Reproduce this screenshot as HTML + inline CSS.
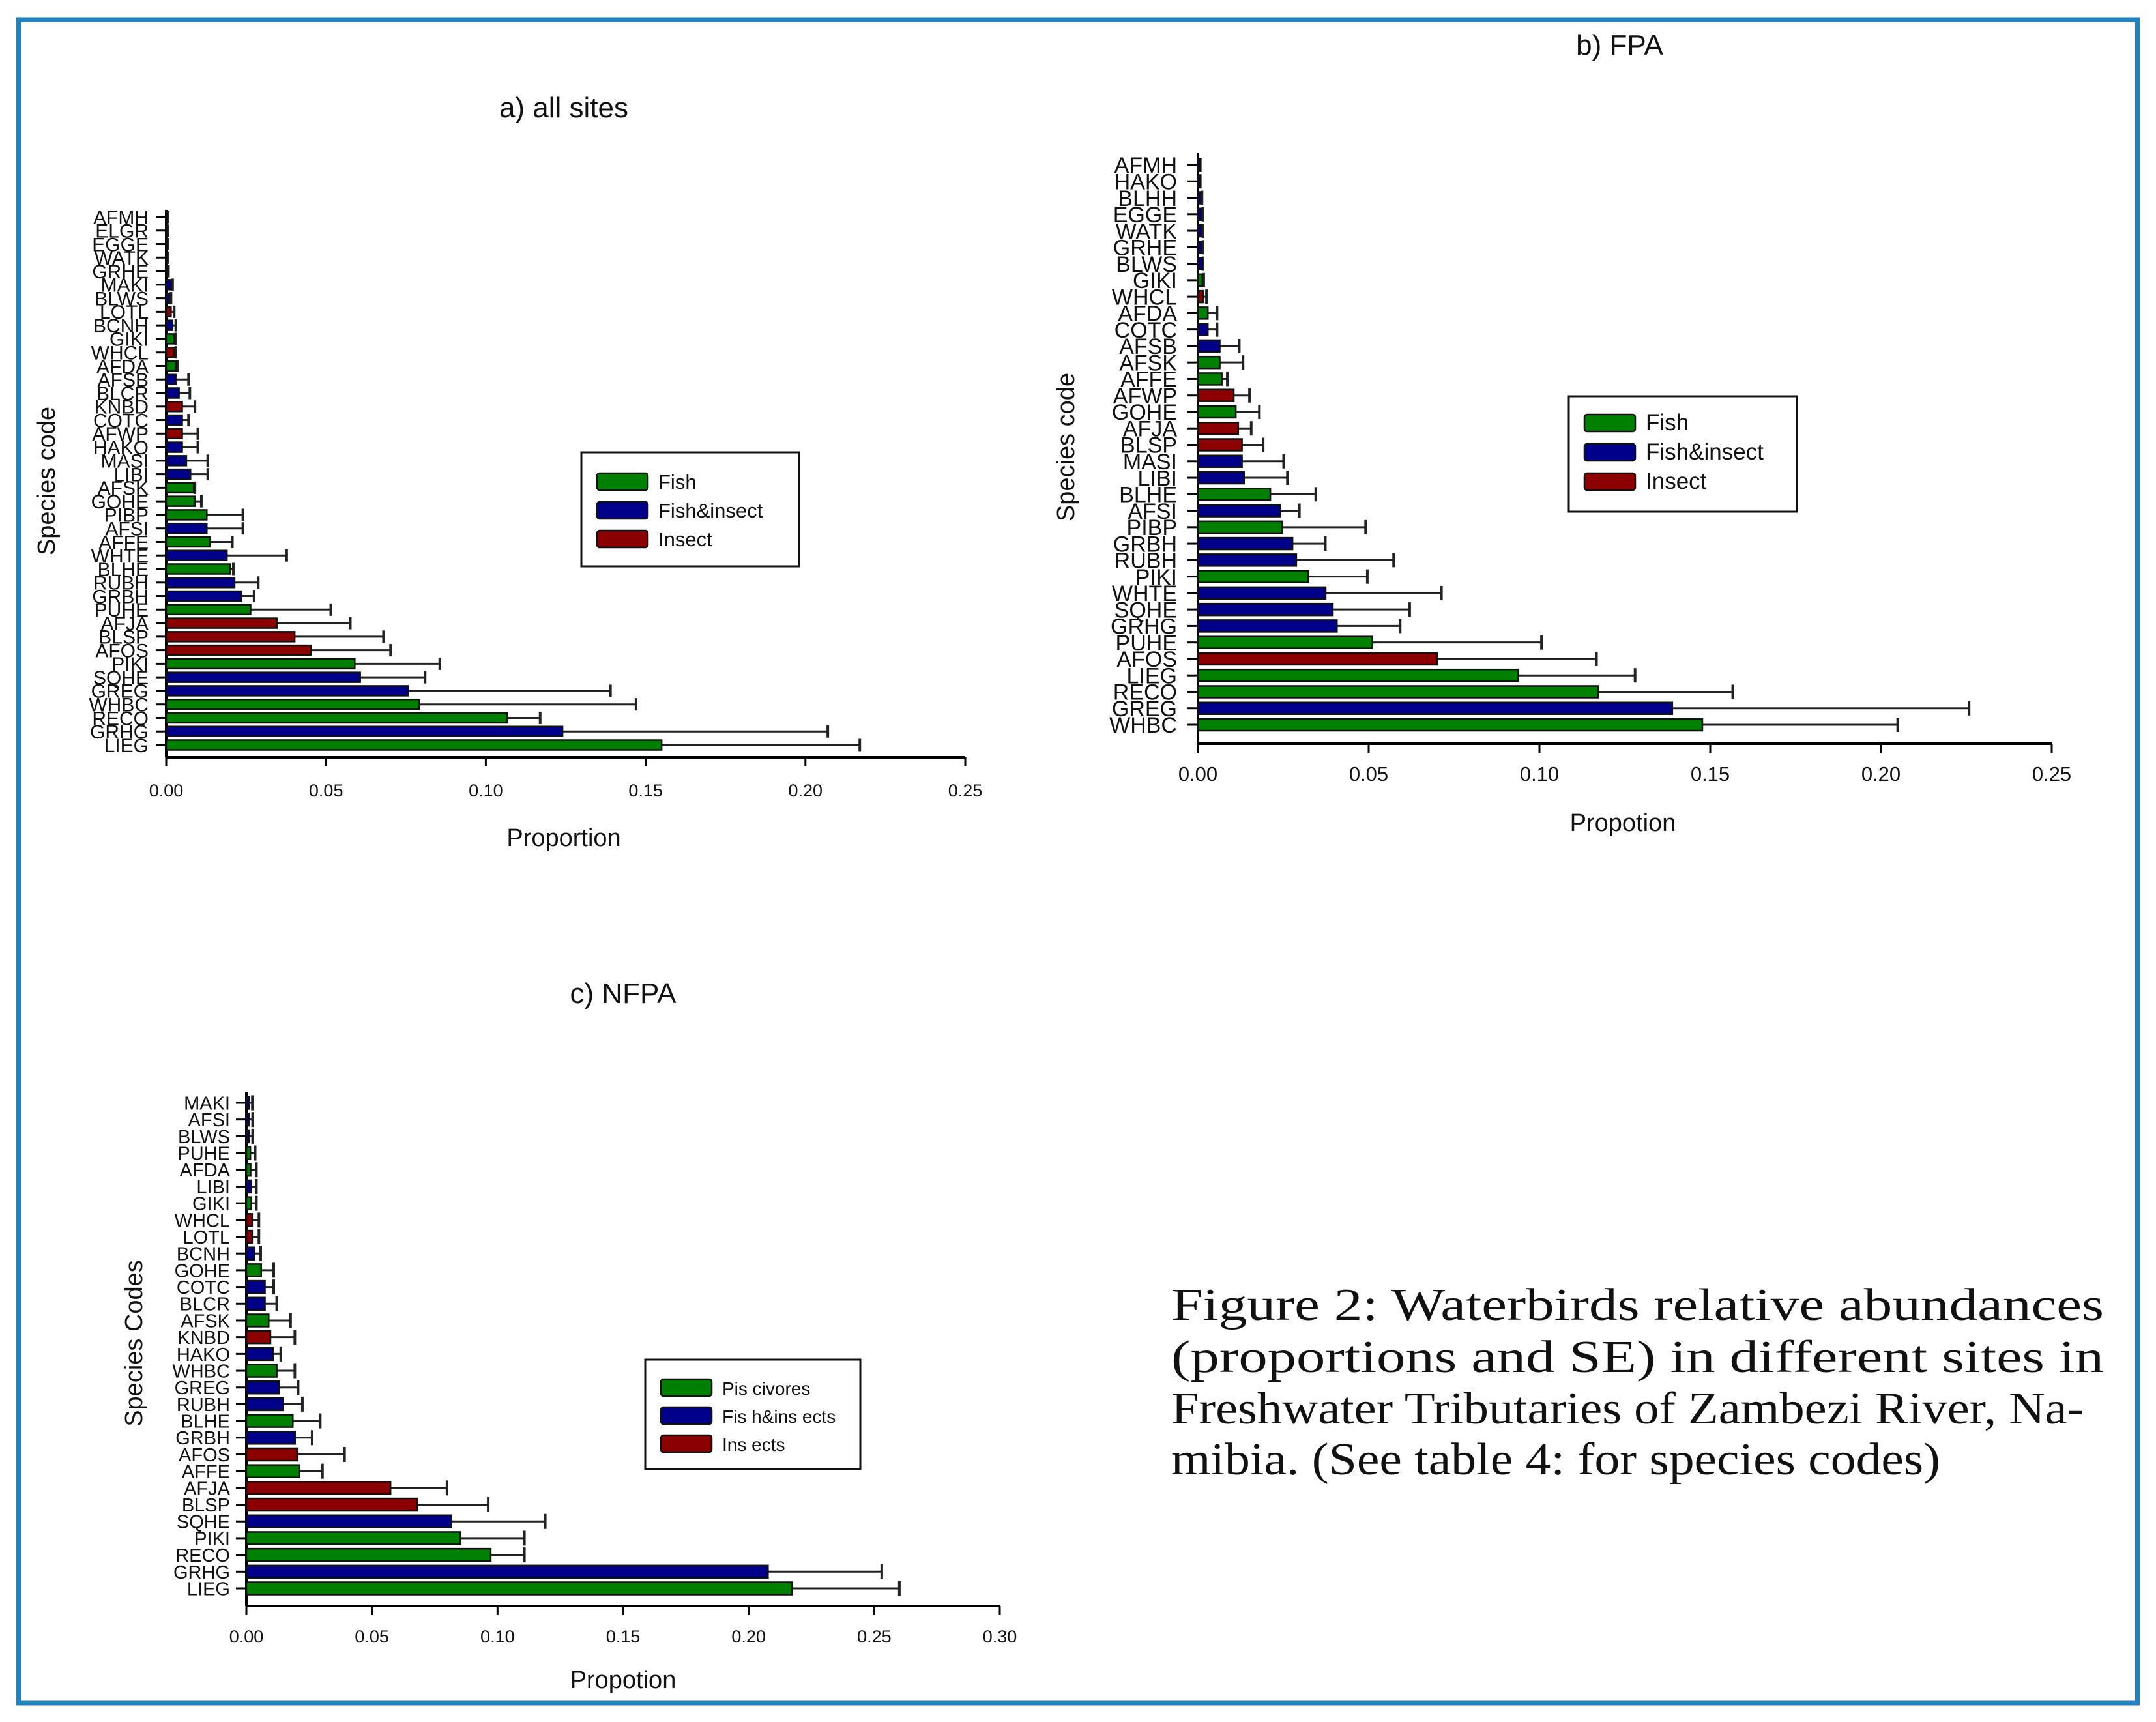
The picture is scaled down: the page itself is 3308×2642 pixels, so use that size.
<!DOCTYPE html>
<html><head><meta charset="utf-8">
<style>
html,body{margin:0;padding:0;background:#fff;}
svg{display:block;}
text{font-family:"Liberation Sans",sans-serif;fill:#111;}
</style></head>
<body>
<svg id="fig" xmlns="http://www.w3.org/2000/svg" width="3308" height="2642" viewBox="0 0 3308 2642">
<rect x="28.5" y="30" width="3251" height="2583" fill="none" stroke="#2382c0" stroke-width="7"/>
<g id="pa"></g>
<g id="pb"></g>
<g id="pc"></g>
<g style="font-family:'Liberation Serif',serif">
<text x="1797" y="2025" font-size="70" textLength="1431" lengthAdjust="spacingAndGlyphs" style="font-family:'Liberation Serif',serif">Figure 2: Waterbirds  relative abundances</text>
<text x="1797" y="2105" font-size="70" textLength="1431" lengthAdjust="spacingAndGlyphs" style="font-family:'Liberation Serif',serif">(proportions and  SE) in different sites in</text>
<text x="1797" y="2184" font-size="70" textLength="1400" lengthAdjust="spacingAndGlyphs" style="font-family:'Liberation Serif',serif">Freshwater Tributaries of Zambezi River, Na-</text>
<text x="1797" y="2262" font-size="70" textLength="1180" lengthAdjust="spacingAndGlyphs" style="font-family:'Liberation Serif',serif">mibia.  (See table 4: for species codes)</text>
</g>
</svg>
<script>
// groups: 0 = fish/piscivores, 1 = fish&insect, 2 = insect
const catsA = ["AFMH","ELGR","EGGE","WATK","GRHE","MAKI","BLWS","LOTL","BCNH","GIKI","WHCL","AFDA","AFSB","BLCR","KNBD","COTC","AFWP","HAKO","MASI","LIBI","AFSK","GOHE","PIBP","AFSI","AFFE","WHTE","BLHE","RUBH","GRBH","PUHE","AFJA","BLSP","AFOS","PIKI","SQHE","GREG","WHBC","RECO","GRHG","LIEG"];
const valsA = [0,0.0003,0.0003,0.0003,0.0005,0.0015,0.001,0.0015,0.002,0.0025,0.0025,0.003,0.003,0.004,0.005,0.005,0.005,0.005,0.0063,0.0076,0.0086,0.009,0.0127,0.0127,0.0137,0.019,0.02,0.0214,0.0235,0.0264,0.0346,0.0402,0.0453,0.059,0.0607,0.0757,0.0792,0.1067,0.124,0.155];
const errsA = [0.0005,0.0005,0.0005,0.0005,0.0007,0.002,0.0015,0.0025,0.003,0.003,0.003,0.0035,0.007,0.0074,0.009,0.007,0.0099,0.0099,0.013,0.013,0.009,0.011,0.024,0.024,0.0207,0.0377,0.021,0.0288,0.0275,0.0515,0.0576,0.068,0.0702,0.0856,0.081,0.139,0.147,0.117,0.207,0.217];
const groupsA = [1,1,1,1,1,1,1,2,1,0,2,0,1,1,2,1,2,1,1,1,0,0,0,1,0,1,0,1,1,0,2,2,2,0,1,1,0,0,1,0];
const ticksA = ["0.00","0.05","0.10","0.15","0.20","0.25"];

const catsB = ["AFMH","HAKO","BLHH","EGGE","WATK","GRHE","BLWS","GIKI","WHCL","AFDA","COTC","AFSB","AFSK","AFFE","AFWP","GOHE","AFJA","BLSP","MASI","LIBI","BLHE","AFSI","PIBP","GRBH","RUBH","PIKI","WHTE","SQHE","GRHG","PUHE","AFOS","LIEG","RECO","GREG","WHBC"];
const valsB = [0.0005,0.0005,0.0008,0.001,0.001,0.001,0.0013,0.0013,0.0015,0.0029,0.0029,0.0064,0.0064,0.007,0.0105,0.0111,0.0118,0.0129,0.0129,0.0135,0.0212,0.024,0.0246,0.0277,0.0288,0.0323,0.0374,0.0395,0.0407,0.0511,0.07,0.0938,0.1172,0.1389,0.1477];
const errsB = [0.0007,0.0007,0.0012,0.0015,0.0015,0.0015,0.0015,0.0017,0.0025,0.0056,0.0056,0.0121,0.0132,0.0086,0.0151,0.018,0.0156,0.0191,0.0251,0.0262,0.0345,0.0297,0.0491,0.0373,0.0573,0.0496,0.0713,0.062,0.0592,0.1006,0.1167,0.128,0.1566,0.2258,0.2049];
const groupsB = [1,1,1,1,1,1,1,0,2,0,1,1,0,0,2,0,2,2,1,1,0,1,0,1,1,0,1,1,1,0,2,0,0,1,0];
const ticksB = ["0.00","0.05","0.10","0.15","0.20","0.25"];

const catsC = ["MAKI","AFSI","BLWS","PUHE","AFDA","LIBI","GIKI","WHCL","LOTL","BCNH","GOHE","COTC","BLCR","AFSK","KNBD","HAKO","WHBC","GREG","RUBH","BLHE","GRBH","AFOS","AFFE","AFJA","BLSP","SQHE","PIKI","RECO","GRHG","LIEG"];
const valsC = [0.001,0.001,0.001,0.0016,0.0017,0.002,0.002,0.0023,0.0023,0.0033,0.0059,0.0074,0.0074,0.0089,0.0096,0.0106,0.0121,0.013,0.0147,0.0185,0.0194,0.0202,0.021,0.0574,0.068,0.0816,0.0852,0.0973,0.2077,0.2173];
const errsC = [0.0024,0.0025,0.0025,0.0035,0.004,0.004,0.004,0.005,0.005,0.0057,0.0109,0.0109,0.0121,0.0176,0.0193,0.0137,0.0193,0.0206,0.0223,0.0294,0.0262,0.0391,0.0303,0.0799,0.0963,0.119,0.1107,0.1107,0.253,0.26];
const groupsC = [1,1,1,0,0,1,0,2,2,1,0,1,1,0,2,1,0,1,1,0,1,2,0,2,2,1,0,0,1,0];
const ticksC = ["0.00","0.05","0.10","0.15","0.20","0.25","0.30"];

const colors = ["#008000","#00008b","#8b0000"];
const NS = "http://www.w3.org/2000/svg";
function mk(parent, tag, attrs, txt){
  const e = document.createElementNS(NS, tag);
  for (const k in attrs) e.setAttribute(k, attrs[k]);
  if (txt !== undefined) e.textContent = txt;
  parent.appendChild(e);
  return e;
}
function panel(g, cfg, cats, vals, errs, groups, ticks){
  const xs = v => cfg.x0 + (v / cfg.max) * (cfg.x1 - cfg.x0);
  const n = cats.length;
  const ys = i => cfg.yTop + i * (cfg.yBot - cfg.yTop) / (n - 1);
  // axes
  const ya = mk(g,"line",{x1:cfg.x0,y1:cfg.axTop,x2:cfg.x0,y2:cfg.axBot,stroke:"#000","stroke-width":4});
  
  
  const xa = mk(g,"line",{x1:cfg.x0,y1:cfg.axBot,x2:cfg.x1,y2:cfg.axBot,stroke:"#000","stroke-width":4});
  
  
  for (let t=0;t<ticks.length;t++){
    const v = parseFloat(ticks[t]); const x = xs(v);
    const tk = mk(g,"line",{x1:x,y1:cfg.axBot,x2:x,y2:cfg.axBot+14,stroke:"#000","stroke-width":3});
    
    
    const tl = mk(g,"text",{x:x,y:cfg.tickY,"font-size":cfg.tickFs,"text-anchor":"middle"},ticks[t]);
    
    
  }
  for (let i=0;i<n;i++){
    const y = ys(i);
    const tk = mk(g,"line",{x1:cfg.x0-16,y1:y,x2:cfg.x0,y2:y,stroke:"#000","stroke-width":3});
    
    
    const lb = mk(g,"text",{x:cfg.labX,y:y+cfg.labFs*0.36,"font-size":cfg.labFs,"text-anchor":"end",fill:"#333"},cats[i]);
    
    
    const ex = xs(errs[i]), bx = xs(vals[i]);
    const el = mk(g,"line",{x1:bx,y1:y,x2:ex,y2:y,stroke:"#222","stroke-width":3});
    
    
    const ec = mk(g,"line",{x1:ex,y1:y-cfg.bh/2-2,x2:ex,y2:y+cfg.bh/2+2,stroke:"#222","stroke-width":4});
    
    
    const b = mk(g,"rect",{x:cfg.x0,y:y-cfg.bh/2,width:Math.max(bx-cfg.x0,1),height:cfg.bh,fill:colors[groups[i]],stroke:"#111","stroke-width":2.5});
    
    
  }
  const ti = mk(g,"text",{x:cfg.titleX,y:cfg.titleY,"font-size":44,"text-anchor":"middle"},cfg.title);
  
  
  const xt = mk(g,"text",{x:cfg.xtX,y:cfg.xtY,"font-size":38,"text-anchor":"middle"},cfg.xTitle);
  
  
  const yt = mk(g,"text",{x:0,y:0,"font-size":38,"text-anchor":"middle",transform:"translate("+cfg.ytX+","+cfg.ytY+") rotate(-90)"},cfg.yTitle);
  
  
  const lg = mk(g,"g",{});
  
  
  const L = cfg.leg;
  mk(lg,"rect",{x:L.x,y:L.y,width:L.w,height:L.h,fill:"#fff",stroke:"#111","stroke-width":3});
  for (let k=0;k<3;k++){
    const yy = L.y + L.pad + k*L.step;
    const sw = mk(lg,"rect",{x:L.x+24,y:yy,width:78,height:26,rx:4,fill:colors[k],stroke:"#111","stroke-width":2.5});
    
    
    const lt = mk(lg,"text",{x:L.x+118,y:yy+24,"font-size":L.fs,"letter-spacing":L.ls||0},cfg.legNames[k]);
    
    
  }
}
panel(document.getElementById('pa'),{x0:255,x1:1481,max:0.25,yTop:333,yBot:1143,axTop:322,axBot:1162,tickY:1222,tickFs:27,labX:228,labFs:30,bh:15,
  title:"a) all sites",titleX:865,titleY:180,xTitle:"Proportion",xtX:865,xtY:1298,yTitle:"Species code",ytX:84,ytY:738,
  leg:{x:892,y:694,w:334,h:175,pad:32,step:44,fs:31},legNames:["Fish","Fish&insect","Insect"]},catsA,valsA,errsA,groupsA,ticksA);
panel(document.getElementById('pb'),{x0:1838,x1:3148,max:0.25,yTop:253,yBot:1112,axTop:234,axBot:1141,tickY:1198,tickFs:31,labX:1806,labFs:34,bh:18,
  title:"b)  FPA",titleX:2485,titleY:84,xTitle:"Propotion",xtX:2490,xtY:1275,yTitle:"Species code",ytX:1648,ytY:686,
  leg:{x:2407,y:608,w:350,h:177,pad:28,step:45,fs:35},legNames:["Fish","Fish&insect","Insect"]},catsB,valsB,errsB,groupsB,ticksB);
panel(document.getElementById('pc'),{x0:378,x1:1534,max:0.30,yTop:1692,yBot:2437,axTop:1676,axBot:2464,tickY:2520,tickFs:27,labX:353,labFs:29,bh:19,
  title:"c) NFPA",titleX:956,titleY:1539,xTitle:"Propotion",xtX:956,xtY:2590,yTitle:"Species Codes",ytX:218,ytY:2061,
  leg:{x:990,y:2086,w:330,h:168,pad:30,step:43,fs:28},legNames:["Pis civores","Fis h&ins ects","Ins ects"]},catsC,valsC,errsC,groupsC,ticksC);
</script>
</body></html>
